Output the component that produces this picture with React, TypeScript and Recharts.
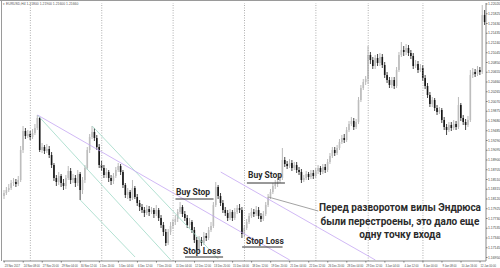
import React from 'react';
import { ComposedChart, Bar, XAxis, YAxis, ReferenceLine } from 'recharts';

// EURUSD H4, 23 Nov 2017 – 12 Jan 2018 (one entry per candle)
const opens = [
  1.1818, 1.1824, 1.1830, 1.1834, 1.1844, 1.1846, 1.1842, 1.1850, 1.1910, 1.1948,
  1.1938, 1.1942, 1.1936, 1.1944, 1.1954, 1.1974, 1.1910, 1.1916, 1.1908, 1.1912,
  1.1900, 1.1880, 1.1854, 1.1846, 1.1858, 1.1844, 1.1838, 1.1854, 1.1868, 1.1850,
  1.1854, 1.1844, 1.1862, 1.1830, 1.1850, 1.1874, 1.1910, 1.1936, 1.1946, 1.1934,
  1.1916, 1.1880, 1.1874, 1.1860, 1.1866, 1.1854, 1.1848, 1.1858, 1.1870, 1.1878,
  1.1866, 1.1840, 1.1820, 1.1826, 1.1814, 1.1834, 1.1816, 1.1804, 1.1796, 1.1790,
  1.1784, 1.1792, 1.1786, 1.1790, 1.1782, 1.1790, 1.1774, 1.1760, 1.1746, 1.1724,
  1.1746, 1.1758, 1.1766, 1.1772, 1.1786, 1.1796, 1.1782, 1.1774, 1.1760, 1.1766,
  1.1750, 1.1730, 1.1710, 1.1730, 1.1724, 1.1738, 1.1734, 1.1750, 1.1758, 1.1800,
  1.1836, 1.1818, 1.1804, 1.1790, 1.1784, 1.1774, 1.1786, 1.1774, 1.1786, 1.1794,
  1.1790, 1.1742, 1.1754, 1.1766, 1.1778, 1.1786, 1.1782, 1.1790, 1.1778, 1.1772,
  1.1782, 1.1800, 1.1816, 1.1826, 1.1838, 1.1842, 1.1848, 1.1854, 1.1890, 1.1882,
  1.1878, 1.1884, 1.1874, 1.1880, 1.1870, 1.1866, 1.1850, 1.1854, 1.1862, 1.1856,
  1.1864, 1.1858, 1.1868, 1.1874, 1.1866, 1.1876, 1.1870, 1.1886, 1.1898, 1.1910,
  1.1904, 1.1914, 1.1926, 1.1934, 1.1930, 1.1950, 1.1962, 1.1968, 1.1956, 1.1966,
  1.2010, 1.2034, 1.2046, 1.2052, 1.2100, 1.2090, 1.2078, 1.2094, 1.2084, 1.2096,
  1.2080, 1.2060, 1.2050, 1.2040, 1.2050, 1.2038, 1.2070, 1.2100, 1.2110, 1.2106,
  1.2114, 1.2104, 1.2098, 1.2078, 1.2082, 1.2070, 1.2074, 1.2054, 1.2038, 1.2020,
  1.2002, 1.2010, 1.1994, 1.1986, 1.1990, 1.1970, 1.1956, 1.1950, 1.1960, 1.1954,
  1.1962, 1.1956, 1.2000, 1.1974, 1.1966, 1.1960, 1.1970, 1.2060, 1.2066, 1.2062,
  1.2070, 1.2066, 1.2180,
];
const highs = [
  1.1830, 1.1836, 1.1842, 1.1850, 1.1854, 1.1852, 1.1858, 1.1918, 1.1958, 1.1954,
  1.1950, 1.1948, 1.1952, 1.1962, 1.1980, 1.1976, 1.1924, 1.1920, 1.1922, 1.1918,
  1.1906, 1.1884, 1.1860, 1.1866, 1.1862, 1.1852, 1.1860, 1.1878, 1.1874, 1.1862,
  1.1860, 1.1870, 1.1866, 1.1856, 1.1880, 1.1916, 1.1942, 1.1958, 1.1954, 1.1940,
  1.1922, 1.1888, 1.1880, 1.1874, 1.1870, 1.1860, 1.1864, 1.1876, 1.1884, 1.1882,
  1.1870, 1.1844, 1.1834, 1.1830, 1.1850, 1.1838, 1.1822, 1.1810, 1.1802, 1.1796,
  1.1800, 1.1798, 1.1796, 1.1794, 1.1800, 1.1794, 1.1780, 1.1766, 1.1752, 1.1752,
  1.1766, 1.1772, 1.1780, 1.1792, 1.1806, 1.1800, 1.1788, 1.1780, 1.1774, 1.1770,
  1.1756, 1.1736, 1.1738, 1.1736, 1.1746, 1.1744, 1.1756, 1.1766, 1.1806, 1.1846,
  1.1840, 1.1824, 1.1810, 1.1796, 1.1790, 1.1792, 1.1790, 1.1794, 1.1800, 1.1802,
  1.1796, 1.1760, 1.1772, 1.1784, 1.1794, 1.1792, 1.1798, 1.1796, 1.1784, 1.1788,
  1.1806, 1.1822, 1.1832, 1.1844, 1.1850, 1.1854, 1.1862, 1.1914, 1.1896, 1.1888,
  1.1892, 1.1890, 1.1886, 1.1886, 1.1876, 1.1872, 1.1860, 1.1868, 1.1866, 1.1870,
  1.1870, 1.1874, 1.1880, 1.1878, 1.1882, 1.1882, 1.1892, 1.1904, 1.1916, 1.1916,
  1.1920, 1.1932, 1.1940, 1.1942, 1.1956, 1.1968, 1.1976, 1.1974, 1.1972, 1.2016,
  1.2040, 1.2052, 1.2058, 1.2118, 1.2106, 1.2096, 1.2100, 1.2102, 1.2104, 1.2102,
  1.2086, 1.2066, 1.2056, 1.2056, 1.2056, 1.2076, 1.2106, 1.2126, 1.2118, 1.2122,
  1.2120, 1.2110, 1.2104, 1.2090, 1.2088, 1.2082, 1.2080, 1.2060, 1.2044, 1.2026,
  1.2016, 1.2014, 1.2000, 1.1996, 1.1994, 1.1976, 1.1962, 1.1966, 1.1966, 1.1970,
  1.1968, 1.2016, 1.2004, 1.1980, 1.1972, 1.1978, 1.2070, 1.2074, 1.2072, 1.2078,
  1.2076, 1.2200, 1.2190,
];
const lows = [
  1.1812, 1.1820, 1.1826, 1.1830, 1.1838, 1.1836, 1.1838, 1.1846, 1.1904, 1.1932,
  1.1934, 1.1930, 1.1932, 1.1940, 1.1950, 1.1906, 1.1904, 1.1902, 1.1904, 1.1894,
  1.1874, 1.1848, 1.1838, 1.1840, 1.1836, 1.1830, 1.1832, 1.1850, 1.1842, 1.1844,
  1.1836, 1.1838, 1.1810, 1.1822, 1.1844, 1.1870, 1.1904, 1.1932, 1.1928, 1.1910,
  1.1874, 1.1868, 1.1854, 1.1854, 1.1846, 1.1840, 1.1842, 1.1854, 1.1866, 1.1860,
  1.1834, 1.1814, 1.1812, 1.1808, 1.1810, 1.1812, 1.1798, 1.1788, 1.1784, 1.1776,
  1.1780, 1.1778, 1.1782, 1.1774, 1.1778, 1.1768, 1.1754, 1.1738, 1.1718, 1.1720,
  1.1740, 1.1752, 1.1760, 1.1766, 1.1782, 1.1776, 1.1768, 1.1754, 1.1754, 1.1744,
  1.1724, 1.1704, 1.1706, 1.1718, 1.1720, 1.1728, 1.1730, 1.1746, 1.1754, 1.1796,
  1.1812, 1.1798, 1.1784, 1.1778, 1.1768, 1.1770, 1.1768, 1.1770, 1.1782, 1.1784,
  1.1734, 1.1736, 1.1750, 1.1762, 1.1774, 1.1776, 1.1778, 1.1772, 1.1766, 1.1768,
  1.1778, 1.1796, 1.1812, 1.1822, 1.1832, 1.1836, 1.1844, 1.1850, 1.1876, 1.1872,
  1.1874, 1.1868, 1.1870, 1.1864, 1.1860, 1.1844, 1.1846, 1.1850, 1.1850, 1.1852,
  1.1852, 1.1854, 1.1862, 1.1860, 1.1862, 1.1864, 1.1866, 1.1882, 1.1894, 1.1898,
  1.1900, 1.1910, 1.1922, 1.1924, 1.1926, 1.1946, 1.1958, 1.1950, 1.1952, 1.1962,
  1.2006, 1.2030, 1.2040, 1.2042, 1.2082, 1.2072, 1.2072, 1.2078, 1.2078, 1.2074,
  1.2054, 1.2044, 1.2034, 1.2034, 1.2032, 1.2034, 1.2066, 1.2096, 1.2098, 1.2100,
  1.2098, 1.2092, 1.2072, 1.2074, 1.2064, 1.2066, 1.2048, 1.2032, 1.2014, 1.1996,
  1.1996, 1.1988, 1.1980, 1.1982, 1.1964, 1.1950, 1.1940, 1.1946, 1.1948, 1.1950,
  1.1950, 1.1952, 1.1968, 1.1960, 1.1950, 1.1956, 1.1966, 1.2054, 1.2056, 1.2058,
  1.2060, 1.2062, 1.2160,
];
const closes = [
  1.1824, 1.1830, 1.1834, 1.1844, 1.1846, 1.1842, 1.1850, 1.1910, 1.1948, 1.1938,
  1.1942, 1.1936, 1.1944, 1.1954, 1.1974, 1.1910, 1.1916, 1.1908, 1.1912, 1.1900,
  1.1880, 1.1854, 1.1846, 1.1858, 1.1844, 1.1838, 1.1854, 1.1868, 1.1850, 1.1854,
  1.1844, 1.1862, 1.1830, 1.1850, 1.1874, 1.1910, 1.1936, 1.1946, 1.1934, 1.1916,
  1.1880, 1.1874, 1.1860, 1.1866, 1.1854, 1.1848, 1.1858, 1.1870, 1.1878, 1.1866,
  1.1840, 1.1820, 1.1826, 1.1814, 1.1834, 1.1816, 1.1804, 1.1796, 1.1790, 1.1784,
  1.1792, 1.1786, 1.1790, 1.1782, 1.1790, 1.1774, 1.1760, 1.1746, 1.1724, 1.1746,
  1.1758, 1.1766, 1.1772, 1.1786, 1.1796, 1.1782, 1.1774, 1.1760, 1.1766, 1.1750,
  1.1730, 1.1710, 1.1730, 1.1724, 1.1738, 1.1734, 1.1750, 1.1758, 1.1800, 1.1836,
  1.1818, 1.1804, 1.1790, 1.1784, 1.1774, 1.1786, 1.1774, 1.1786, 1.1794, 1.1790,
  1.1742, 1.1754, 1.1766, 1.1778, 1.1786, 1.1782, 1.1790, 1.1778, 1.1772, 1.1782,
  1.1800, 1.1816, 1.1826, 1.1838, 1.1842, 1.1848, 1.1854, 1.1890, 1.1882, 1.1878,
  1.1884, 1.1874, 1.1880, 1.1870, 1.1866, 1.1850, 1.1854, 1.1862, 1.1856, 1.1864,
  1.1858, 1.1868, 1.1874, 1.1866, 1.1876, 1.1870, 1.1886, 1.1898, 1.1910, 1.1904,
  1.1914, 1.1926, 1.1934, 1.1930, 1.1950, 1.1962, 1.1968, 1.1956, 1.1966, 1.2010,
  1.2034, 1.2046, 1.2052, 1.2100, 1.2090, 1.2078, 1.2094, 1.2084, 1.2096, 1.2080,
  1.2060, 1.2050, 1.2040, 1.2050, 1.2038, 1.2070, 1.2100, 1.2110, 1.2106, 1.2114,
  1.2104, 1.2098, 1.2078, 1.2082, 1.2070, 1.2074, 1.2054, 1.2038, 1.2020, 1.2002,
  1.2010, 1.1994, 1.1986, 1.1990, 1.1970, 1.1956, 1.1950, 1.1960, 1.1954, 1.1962,
  1.1956, 1.2000, 1.1974, 1.1966, 1.1960, 1.1970, 1.2060, 1.2066, 1.2062, 1.2070,
  1.2066, 1.2180, 1.2166,
];

// time axis: candle index of each label, and the label text
const xTickIdx = [0, 8, 16, 24, 32, 40, 48, 56, 64, 72, 80, 88, 96, 104, 112, 120, 128, 136, 144, 152, 160, 168, 176, 184, 192, 200];
const xTickLabels = [
  '23 Nov 2017', '24 Nov 08:00', '27 Nov 20:00', '29 Nov 04:00', '30 Nov 12:00', '1 Dec 20:00',
  '5 Dec 04:00', '6 Dec 12:00', '7 Dec 20:00', '11 Dec 04:00', '12 Dec 12:00', '13 Dec 20:00',
  '15 Dec 04:00', '18 Dec 12:00', '19 Dec 20:00', '21 Dec 04:00', '22 Dec 12:00', '26 Dec 20:00',
  '28 Dec 04:00', '29 Dec 12:00', '3 Jan 04:00', '4 Jan 12:00', '8 Jan 00:00', '9 Jan 08:00',
  '10 Jan 16:00', '12 Jan 00:00',
];

const yTickLabels = [
  '1.22020', '1.21825', '1.21630', '1.21435', '1.21240', '1.21045', '1.20850', '1.20655', '1.20460',
  '1.20265', '1.20070', '1.19875', '1.19680', '1.19485', '1.19290', '1.19095', '1.18900', '1.18705',
  '1.18510', '1.18315', '1.18120', '1.17925', '1.17730', '1.17535', '1.17340', '1.17145', '1.16950',
];

// first candle of each trading week (period separators)
const weekStarts = [11, 41, 71, 101, 131, 153, 176];

// Andrews pitchfork lines, drawn in candle index / price space
const tealLines = [
  { x1: 14, y1: 1.1980, x2: 70, y2: 1.1690 },
  { x1: 32, y1: 1.1810, x2: 55, y2: 1.1696 },
  { x1: 37, y1: 1.1958, x2: 90, y2: 1.1692 },
];
const violetLines = [
  { x1: 14, y1: 1.1980, x2: 120, y2: 1.1690 },
  { x1: 91, y1: 1.1866, x2: 156, y2: 1.1690 },
];
// order levels under the labels
const orderLines = [
  { x1: 72, x2: 88, y: 1.1812 },
  { x1: 102, x2: 118, y: 1.1844 },
  { x1: 76, x2: 92, y: 1.1696 },
  { x1: 100, x2: 117, y: 1.1716 },
];
const pointerLine = { x1: 111, y1: 1.1816, x2: 132, y2: 1.1788 };

const candles = opens.map((o, i) => ({
  i,
  o,
  h: highs[i],
  l: lows[i],
  c: closes[i],
  range: [lows[i], highs[i]],
}));

function Candle(props: any) {
  const { x, y, width, height, payload } = props;
  if (!payload) return null;
  const { o, h, l, c } = payload;
  const k = h > l ? height / (h - l) : 0;
  const cx = x + width / 2;
  const yo = y + (h - o) * k;
  const yc = y + (h - c) * k;
  const up = c >= o;
  const top = Math.min(yo, yc);
  const bh = Math.max(Math.abs(yc - yo), 0.7);
  const col = up ? '#bdbdbd' : '#161616';
  return (
    <g>
      <line x1={cx} x2={cx} y1={y} y2={y + height} stroke={up ? '#a8a8a8' : '#161616'} strokeWidth={0.8} />
      <rect x={cx - 0.8} y={top} width={1.6} height={bh} fill={col} />
    </g>
  );
}

function TimeTick(props: any) {
  const { x, y, payload } = props;
  const n = xTickIdx.indexOf(payload.value);
  return (
    <text x={x + 0.5} y={y + 2.6} fontSize={2.7} fill="#444" textAnchor="start" fontFamily="Liberation Sans, Arial">
      {xTickLabels[n]}
    </text>
  );
}

const labelStyle: React.CSSProperties = {
  position: 'absolute',
  fontFamily: 'Roboto, Arial, sans-serif',
  fontWeight: 700,
  fontSize: 8.5,
  lineHeight: '10px',
  color: '#2b2b2b',
  whiteSpace: 'nowrap',
};

export default function App() {
  return (
    <div style={{ position: 'relative', width: 500, height: 268, background: '#fff', overflow: 'hidden' }}>
      <style>{'body{margin:0}'}</style>
      <ComposedChart
        width={500}
        height={268}
        data={candles}
        margin={{ top: 3, right: 0, bottom: 0, left: 3 }}
        barCategoryGap={0}
      >
        <XAxis
          dataKey="i"
          type="category"
          ticks={xTickIdx}
          interval={0}
          height={7}
          tick={<TimeTick />}
          tickSize={1.5}
          tickLine={{ stroke: '#777' }}
          axisLine={{ stroke: '#8a8a8a' }}
        />
        <YAxis
          orientation="right"
          type="number"
          domain={[1.1688, 1.2204]}
          allowDataOverflow
          ticks={yTickLabels.map(Number)}
          tickFormatter={(v: number) => v.toFixed(5)}
          width={14}
          tickSize={1.5}
          tickMargin={0.5}
          tick={{ fontSize: 3.4, fill: '#444', fontFamily: 'Liberation Sans, Arial' }}
          tickLine={{ stroke: '#777' }}
          axisLine={{ stroke: '#8a8a8a' }}
        />
        {weekStarts.map((w) => (
          <ReferenceLine key={'w' + w} x={w} stroke="#9a9a9a" strokeDasharray="1 1.5" strokeWidth={0.8} />
        ))}
        {tealLines.map((s, n) => (
          <ReferenceLine
            key={'t' + n}
            segment={[{ x: s.x1, y: s.y1 }, { x: s.x2, y: s.y2 }]}
            stroke="#9fd9c6"
            strokeWidth={0.8}
            ifOverflow="visible"
          />
        ))}
        {violetLines.map((s, n) => (
          <ReferenceLine
            key={'v' + n}
            segment={[{ x: s.x1, y: s.y1 }, { x: s.x2, y: s.y2 }]}
            stroke="#c4a6f2"
            strokeWidth={0.8}
            ifOverflow="visible"
          />
        ))}
        <ReferenceLine
          segment={[{ x: pointerLine.x1, y: pointerLine.y1 }, { x: pointerLine.x2, y: pointerLine.y2 }]}
          stroke="#8c8c8c"
          strokeWidth={0.8}
          ifOverflow="visible"
        />
        <Bar dataKey="range" shape={<Candle />} isAnimationActive={false} />
        {orderLines.map((s, n) => (
          <ReferenceLine
            key={'o' + n}
            segment={[{ x: s.x1, y: s.y }, { x: s.x2, y: s.y }]}
            stroke="#333"
            strokeWidth={1}
            ifOverflow="visible"
          />
        ))}
      </ComposedChart>

      <div style={{ position: 'absolute', left: 0, top: 0, width: 500, height: 1, background: '#9a9a9a' }} />
      <div style={{ position: 'absolute', left: 1, top: 0, width: 1, height: 261, background: '#9a9a9a' }} />
      <div
        style={{
          position: 'absolute',
          left: 3,
          top: 2,
          fontFamily: 'Liberation Sans, Arial',
          fontSize: 3.4,
          color: '#555',
          whiteSpace: 'nowrap',
        }}
      >
        ▾ EURUSD,H4 1.21800 1.21900 1.21600 1.21660
      </div>

      <div style={{ ...labelStyle, left: 176, top: 187 }}>Buy Stop</div>
      <div style={{ ...labelStyle, left: 248, top: 170 }}>Buy Stop</div>
      <div style={{ ...labelStyle, left: 183, top: 246 }}>Stop Loss</div>
      <div style={{ ...labelStyle, left: 246, top: 236 }}>Stop Loss</div>
      <div
        style={{
          ...labelStyle,
          left: 300,
          top: 201,
          width: 200,
          textAlign: 'center',
          fontSize: 10,
          lineHeight: '13.5px',
        }}
      >
        Перед разворотом вилы Эндрюса
        <br />
        были перестроены, это дало еще
        <br />
        одну точку входа
      </div>
    </div>
  );
}
